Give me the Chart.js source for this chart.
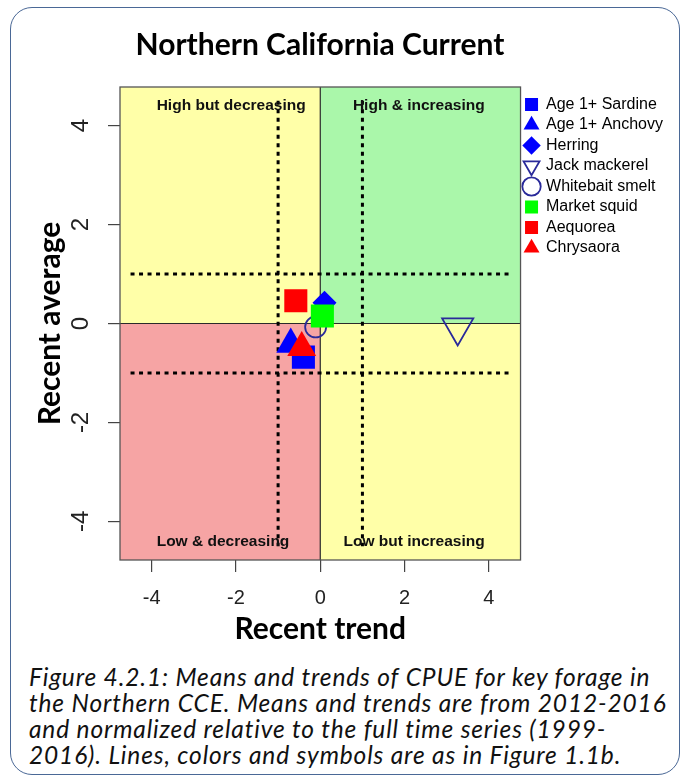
<!DOCTYPE html>
<html>
<head>
<meta charset="utf-8">
<script src="https://cdn.jsdelivr.net/npm/chart.js@4"></script>
<style>
  body { margin: 0; background: #fff; }
  #frame {
    position: absolute; left: 10px; top: 7px; width: 668px; height: 766px;
    border: 1.5px solid #4a6896; border-radius: 22px;
  }
  #title {
    position: absolute; left: 0; top: 28px; width: 640px; text-align: center;
    font: bold 30px Lato, sans-serif; line-height: 30px; color: #000;
  }
  #myChart { position: absolute; left: 0; top: 0; }
  #caption {
    position: absolute; left: 29px; top: 664px;
    font: italic 24.5px Lato, sans-serif; letter-spacing: 0.85px; line-height: 26px; color: #111;
    white-space: nowrap;
  }
</style>
</head>
<body>
<div id="frame"></div>
<canvas id="myChart" width="682" height="660"></canvas>
<div id="title">Northern California Current</div>
<div id="caption">Figure 4.2.1: Means and trends of CPUE for key forage in<br>the Northern CCE. Means and trends are from 2012-2016<br>and normalized relative to the full time series (1999-<br>2016). Lines, colors and symbols are as in Figure 1.1b.</div>
<script>
'use strict';

const ctx = document.getElementById('myChart');

// species shown on the chart, in legend order
const species = ['Age 1+ Sardine', 'Age 1+ Anchovy', 'Herring', 'Jack mackerel',
  'Whitebait smelt', 'Market squid', 'Aequorea', 'Chrysaora'];
// recent trend (x) and recent average (y)
const trend = [-0.40, -0.70, 0.10, 3.26, -0.11, 0.05, -0.58, -0.44];
const average = [-0.68, -0.42, 0.42, -0.08, -0.07, 0.15, 0.46, -0.49];

const xTicks = [-4, -2, 0, 2, 4];
const yTicks = [-4, -2, 0, 2, 4];
const refLines = [-1, 1];       // dotted +-1 SD lines
const refSpan = [-4.5, 4.5];

const quadLabels = ['High but decreasing', 'High & increasing', 'Low & decreasing', 'Low but increasing'];
const quadLabelX = [-3.88, 3.9, -3.88, 3.9];
const quadLabelY = [4.4, 4.4, -4.42, -4.42];

// marker styles
const markerStyle = ['rect', 'triangle', 'rectRot', 'triangle', 'circle', 'rect', 'rect', 'triangle'];
const markerRotation = [0, 0, 0, 180, 0, 0, 0, 0];
const markerSize = [16.3, 16.7, 12, 18, 10.5, 16.3, 16.3, 16.7];
const fillColor = ['#0000ff', '#0000ff', '#0000ff', 'rgba(0,0,0,0)', 'rgba(0,0,0,0)', '#00ff00', '#ff0000', '#ff0000'];
const lineColor = ['#0000ff', '#0000ff', '#0000ff', '#2a2a9a', '#2a2a9a', '#00ff00', '#ff0000', '#ff0000'];
const lineWidth = [0, 0, 0, 1.8, 1.8, 0, 0, 0];
// top-left, top-right, bottom-left, bottom-right
const quadColors = ['#ffffa8', '#aaf7aa', '#f6a4a4', '#ffffa8'];

// backgrounds, zero lines, dotted lines, labels and box behind the points
const quadrants = {
  id: 'quadrants',
  beforeDatasetsDraw(chart) {
    const c = chart.ctx;
    const a = chart.chartArea;
    const x = chart.scales.x;
    const y = chart.scales.y;
    const x0 = x.getPixelForValue(0);
    const y0 = y.getPixelForValue(0);
    c.save();
    c.fillStyle = quadColors[0];
    c.fillRect(a.left, a.top, x0 - a.left, y0 - a.top);
    c.fillStyle = quadColors[1];
    c.fillRect(x0, a.top, a.right - x0, y0 - a.top);
    c.fillStyle = quadColors[2];
    c.fillRect(a.left, y0, x0 - a.left, a.bottom - y0);
    c.fillStyle = quadColors[3];
    c.fillRect(x0, y0, a.right - x0, a.bottom - y0);

    c.strokeStyle = '#2a2a2a';
    c.lineWidth = 1.2;
    c.beginPath();
    c.moveTo(x0, a.top); c.lineTo(x0, a.bottom);
    c.moveTo(a.left, y0); c.lineTo(a.right, y0);
    c.stroke();

    c.strokeStyle = '#000';
    c.lineWidth = 3;
    c.setLineDash([4, 4.5]);
    c.beginPath();
    for (let i = 0; i < refLines.length; i++) {
      const px = x.getPixelForValue(refLines[i]);
      const py = y.getPixelForValue(refLines[i]);
      c.moveTo(px, y.getPixelForValue(refSpan[1]));
      c.lineTo(px, y.getPixelForValue(refSpan[0]));
      c.moveTo(x.getPixelForValue(refSpan[0]), py);
      c.lineTo(x.getPixelForValue(refSpan[1]), py);
    }
    c.stroke();
    c.setLineDash([]);

    c.fillStyle = '#111';
    c.font = 'bold 15.5px "Liberation Sans", Arial, sans-serif';
    c.textBaseline = 'middle';
    for (let i = 0; i < quadLabels.length; i++) {
      c.textAlign = quadLabelX[i] < 0 ? 'left' : 'right';
      c.fillText(quadLabels[i], x.getPixelForValue(quadLabelX[i]), y.getPixelForValue(quadLabelY[i]));
    }

    c.strokeStyle = '#555';
    c.lineWidth = 1.3;
    c.strokeRect(a.left, a.top, a.right - a.left, a.bottom - a.top);
    c.restore();
  }
};

const datasets = species.map((name, i) => ({
  label: name,
  data: [{x: trend[i], y: average[i]}],
  pointStyle: markerStyle[i],
  pointRotation: markerRotation[i],
  pointRadius: markerSize[i],
  pointHoverRadius: markerSize[i],
  pointBackgroundColor: fillColor[i],
  pointBorderColor: lineColor[i],
  pointBorderWidth: lineWidth[i],
  backgroundColor: fillColor[i],
  borderColor: lineColor[i],
  order: -i
}));

new Chart(ctx, {
  type: 'scatter',
  data: { datasets: datasets },
  options: {
    responsive: false,
    animation: false,
    events: [],
    layout: { padding: { top: 87, left: 10, bottom: 10, right: 9 } },
    plugins: {
      tooltip: { enabled: false },
      legend: {
        position: 'right',
        align: 'start',
        // empty title only to push the entries down a little
        title: { display: true, text: '', padding: 0, font: { size: 5, lineHeight: 1 } },
        labels: {
          usePointStyle: true,
          boxWidth: 13,
          boxHeight: 13,
          padding: 4.5,
          color: '#000',
          font: { family: '"Liberation Sans", Arial, sans-serif', size: 16 },
          sort: (a, b) => a.datasetIndex - b.datasetIndex
        }
      }
    },
    scales: {
      x: {
        type: 'linear',
        min: -4.75,
        max: 4.75,
        afterBuildTicks: s => { s.ticks = xTicks.map(v => ({ value: v })); },
        afterFit: s => { s.height = 90; },
        grid: { drawOnChartArea: false, tickLength: 12, color: '#444', lineWidth: 1.2 },
        border: { display: false },
        ticks: {
          padding: 14,
          color: '#222',
          font: { family: '"Liberation Sans", Arial, sans-serif', size: 20 }
        },
        title: {
          display: true,
          text: 'Recent trend',
          color: '#000',
          padding: { top: 0, bottom: 3 },
          font: { family: 'Lato, sans-serif', weight: 'bold', size: 30 }
        }
      },
      y: {
        type: 'linear',
        min: -4.78,
        max: 4.78,
        afterBuildTicks: s => { s.ticks = yTicks.map(v => ({ value: v })); },
        afterFit: s => { s.width = 110; },
        grid: { drawOnChartArea: false, tickLength: 12, color: '#444', lineWidth: 1.2 },
        border: { display: false },
        ticks: {
          minRotation: 90,
          maxRotation: 90,
          crossAlign: 'center',
          padding: 16,
          color: '#222',
          font: { family: '"Liberation Sans", Arial, sans-serif', size: 24 }
        },
        title: {
          display: true,
          text: 'Recent average',
          color: '#000',
          padding: { top: 22, bottom: 0 },
          font: { family: 'Lato, sans-serif', weight: 'bold', size: 30 }
        }
      }
    }
  },
  plugins: [quadrants]
});
</script>
</body>
</html>
